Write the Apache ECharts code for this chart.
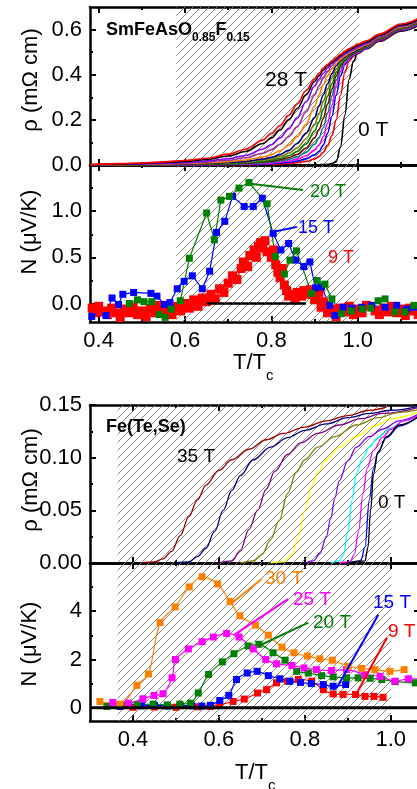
<!DOCTYPE html>
<html>
<head>
<meta charset="utf-8">
<script src="https://cdn.jsdelivr.net/npm/echarts@6.0.0/dist/echarts.min.js"></script>
<style>
html, body { margin: 0; padding: 0; overflow: hidden; background: #fff; }
#main { width: 430px; height: 789px; }
</style>
</head>
<body>
<div id="main"></div>
<script>
// ---------- SmFeAsO0.85F0.15 : resistivity (panel 1) ----------
const tSm = [0.38,0.45,0.5,0.55,0.6,0.65,0.7,0.74,0.78,0.8,0.82,0.84,0.86,0.88,0.9,0.91,0.92,0.93,0.94,0.95,0.96,0.97,0.98,0.99,1.0,1.02,1.05,1.1,1.15];
const rhoSm_0T  = [0,0,0,0,0,0,0,0,0,0,0,0,0,0,0.001,0.001,0.002,0.003,0.006,0.015,0.08,0.22,0.38,0.46,0.498,0.515,0.548,0.593,0.628];
const rhoSm_a   = [0,0,0,0,0,0.001,0.001,0.002,0.003,0.004,0.005,0.007,0.01,0.016,0.027,0.037,0.056,0.085,0.13,0.2,0.31,0.41,0.46,0.482,0.493,0.516,0.551,0.596,0.632];
const rhoSm_b   = [0,0,0,0,0.001,0.001,0.002,0.003,0.005,0.006,0.009,0.012,0.017,0.027,0.045,0.06,0.088,0.14,0.215,0.31,0.395,0.445,0.471,0.485,0.496,0.518,0.553,0.598,0.634];
const rhoSm_c   = [0,0,0,0,0.001,0.002,0.003,0.004,0.007,0.009,0.013,0.018,0.026,0.04,0.066,0.088,0.125,0.185,0.265,0.35,0.415,0.453,0.475,0.488,0.499,0.52,0.555,0.6,0.636];
const rhoSm_d   = [0,0,0,0.001,0.002,0.003,0.004,0.006,0.01,0.013,0.018,0.025,0.036,0.056,0.092,0.12,0.165,0.23,0.305,0.375,0.43,0.46,0.479,0.491,0.501,0.522,0.557,0.602,0.638];
const rhoSm_e   = [0,0,0,0.001,0.002,0.004,0.006,0.008,0.013,0.017,0.023,0.032,0.047,0.074,0.12,0.155,0.205,0.27,0.335,0.395,0.44,0.465,0.482,0.493,0.503,0.524,0.559,0.604,0.64];
const rhoSm_f   = [0,0,0.001,0.002,0.003,0.005,0.007,0.01,0.016,0.021,0.029,0.041,0.06,0.093,0.15,0.19,0.245,0.305,0.36,0.41,0.447,0.468,0.484,0.495,0.505,0.526,0.561,0.606,0.642];
const rhoSm_g   = [0,0,0.001,0.002,0.004,0.006,0.009,0.013,0.021,0.027,0.037,0.052,0.076,0.115,0.18,0.225,0.28,0.335,0.385,0.425,0.455,0.473,0.487,0.497,0.507,0.528,0.563,0.608,0.644];
const rhoSm_h   = [0,0.001,0.002,0.003,0.005,0.007,0.011,0.016,0.026,0.034,0.046,0.065,0.095,0.14,0.21,0.26,0.31,0.36,0.405,0.44,0.462,0.478,0.49,0.5,0.51,0.53,0.565,0.61,0.646];
const rhoSm_i   = [0,0.001,0.003,0.005,0.007,0.01,0.015,0.022,0.035,0.046,0.063,0.088,0.125,0.18,0.26,0.31,0.355,0.395,0.425,0.45,0.468,0.483,0.495,0.505,0.515,0.533,0.567,0.612,0.648];
const rhoSm_j   = [0,0.002,0.004,0.006,0.009,0.014,0.021,0.032,0.052,0.068,0.092,0.125,0.17,0.235,0.31,0.35,0.385,0.415,0.44,0.46,0.475,0.49,0.5,0.51,0.52,0.537,0.57,0.615,0.65];
const rhoSm_k   = [0.001,0.003,0.005,0.008,0.012,0.018,0.028,0.042,0.07,0.09,0.12,0.16,0.21,0.28,0.35,0.38,0.405,0.43,0.45,0.465,0.48,0.495,0.505,0.515,0.525,0.54,0.572,0.617,0.652];
const rhoSm_l   = [0.001,0.004,0.007,0.011,0.016,0.025,0.04,0.06,0.095,0.12,0.155,0.2,0.25,0.31,0.37,0.395,0.42,0.44,0.455,0.47,0.485,0.5,0.51,0.52,0.53,0.545,0.575,0.62,0.655];
const rhoSm_28T = [0.002,0.006,0.009,0.014,0.02,0.03,0.048,0.07,0.11,0.14,0.175,0.22,0.27,0.33,0.38,0.405,0.43,0.445,0.46,0.475,0.49,0.505,0.515,0.525,0.535,0.55,0.58,0.625,0.66];
const rhoSmCurves = [rhoSm_0T, rhoSm_a, rhoSm_b, rhoSm_c, rhoSm_d, rhoSm_e, rhoSm_f, rhoSm_g, rhoSm_h, rhoSm_i, rhoSm_j, rhoSm_k, rhoSm_l, rhoSm_28T];
const rhoSmColors = ['#000000','#ff0000','#0000ff','#ff00ff','#008080','#800000','#008000','#808000','#000080','#ff8000','#993399','#8000ff','#000000','#ff0000'];

// ---------- SmFeAsO0.85F0.15 : Nernst (panel 2) ----------
const nSm_9T = [[0.385,-0.05],[0.392,-0.1],[0.4,-0.03],[0.41,-0.08],[0.42,-0.12],[0.43,-0.05],[0.44,-0.1],[0.45,-0.15],[0.46,-0.06],[0.47,-0.1],[0.48,-0.04],[0.49,-0.12],[0.5,-0.08],[0.51,-0.14],[0.52,-0.05],[0.53,-0.1],[0.54,-0.02],[0.55,-0.09],[0.56,-0.06],[0.57,-0.12],[0.58,-0.03],[0.59,-0.08],[0.6,0.0],[0.61,-0.05],[0.62,0.04],[0.63,-0.03],[0.64,0.06],[0.65,0.02],[0.66,0.1],[0.67,0.05],[0.68,0.16],[0.69,0.12],[0.7,0.22],[0.71,0.3],[0.72,0.26],[0.73,0.38],[0.735,0.45],[0.745,0.4],[0.75,0.52],[0.76,0.58],[0.765,0.5],[0.77,0.62],[0.775,0.66],[0.78,0.6],[0.785,0.68],[0.79,0.56],[0.8,0.5],[0.805,0.58],[0.81,0.42],[0.815,0.34],[0.82,0.28],[0.825,0.38],[0.83,0.2],[0.835,0.14],[0.84,0.08],[0.85,0.1],[0.855,0.04],[0.86,0.12],[0.87,0.08],[0.875,0.14],[0.88,0.1],[0.89,0.15],[0.9,0.04],[0.91,0.12],[0.915,-0.04],[0.92,0.02],[0.93,-0.1],[0.94,-0.06],[0.95,-0.14],[0.96,-0.05],[0.97,-0.09],[0.98,-0.03],[0.99,-0.12],[1.0,-0.06],[1.01,-0.1],[1.02,-0.02],[1.04,-0.08],[1.05,-0.12],[1.06,-0.05],[1.07,-0.09],[1.08,-0.03],[1.09,-0.1],[1.1,-0.06],[1.11,-0.13],[1.12,-0.05],[1.13,-0.08],[1.14,-0.12]];
const nSm_15T = [[0.384,-0.14],[0.417,-0.13],[0.431,0.06],[0.446,-0.01],[0.456,0.1],[0.481,0.12],[0.521,0.11],[0.535,0.08],[0.552,-0.01],[0.565,0.01],[0.582,0.16],[0.598,0.24],[0.617,0.3],[0.64,0.16],[0.657,0.35],[0.673,0.77],[0.692,0.89],[0.71,1.16],[0.737,1.05],[0.758,1.05],[0.779,1.14],[0.804,0.76],[0.822,0.58],[0.84,0.65],[0.856,0.47],[0.875,0.4],[0.889,0.45],[0.902,0.17],[0.916,0.18],[0.935,-0.02],[0.947,-0.13],[0.966,-0.04],[0.986,-0.05],[1.009,-0.04],[1.032,-0.02],[1.063,-0.04],[1.09,-0.02],[1.113,-0.06],[1.13,-0.04]];
const nSm_20T = [[0.471,0.0],[0.49,0.04],[0.505,0.02],[0.523,0.02],[0.54,-0.12],[0.554,-0.15],[0.568,-0.06],[0.589,0.03],[0.61,0.49],[0.65,0.98],[0.668,0.69],[0.683,1.12],[0.703,1.16],[0.725,1.25],[0.748,1.31],[0.79,1.08],[0.809,0.51],[0.83,0.32],[0.843,0.47],[0.858,0.57],[0.893,0.11],[0.906,0.25],[0.924,0.21],[0.94,0.05],[0.962,-0.11],[0.985,-0.08],[1.01,-0.06],[1.03,-0.05],[1.047,0.03],[1.063,0.05],[1.086,-0.09],[1.109,-0.09],[1.13,-0.02]];
const nSm_0T = [[0.65,0],[0.88,0]];
const leadSm_20T = [[0.746,1.30],[0.873,1.23]];
const leadSm_15T = [[0.797,0.77],[0.859,0.83]];

// ---------- Fe(Te,Se) : resistivity (panel 3) ----------
const rhoFts_35T = [[0.42,0],[0.45,0.001],[0.47,0.004],[0.49,0.011],[0.51,0.026],[0.53,0.044],[0.55,0.06],[0.57,0.074],[0.6,0.088],[0.63,0.098],[0.67,0.108],[0.71,0.117],[0.75,0.123],[0.8,0.129],[0.85,0.135],[0.9,0.14],[0.95,0.145],[0.99,0.148]];
const rhoFts_b = [[0.5,0],[0.53,0.001],[0.55,0.006],[0.57,0.014],[0.59,0.03],[0.61,0.05],[0.63,0.069],[0.65,0.083],[0.68,0.098],[0.72,0.11],[0.76,0.119],[0.8,0.126],[0.85,0.132],[0.9,0.138],[0.95,0.142],[1.0,0.145],[1.068,0.149]];
const rhoFts_c = [[0.6,0],[0.63,0.002],[0.65,0.012],[0.67,0.032],[0.69,0.05],[0.71,0.07],[0.73,0.087],[0.76,0.103],[0.79,0.114],[0.83,0.123],[0.88,0.131],[0.93,0.137],[0.98,0.142],[1.068,0.148]];
const rhoFts_d = [[0.65,0],[0.68,0.002],[0.7,0.008],[0.72,0.022],[0.74,0.04],[0.76,0.066],[0.78,0.086],[0.8,0.098],[0.83,0.11],[0.87,0.12],[0.92,0.131],[0.97,0.138],[1.02,0.143],[1.068,0.146]];
const rhoFts_e = [[0.72,0],[0.75,0.001],[0.77,0.008],[0.785,0.025],[0.8,0.05],[0.815,0.072],[0.83,0.086],[0.85,0.098],[0.88,0.11],[0.92,0.12],[0.96,0.13],[1.0,0.137],[1.068,0.144]];
const rhoFts_f = [[0.8,0],[0.82,0.002],[0.835,0.009],[0.85,0.025],[0.86,0.042],[0.87,0.062],[0.88,0.078],[0.9,0.097],[0.92,0.11],[0.95,0.12],[0.98,0.127],[1.02,0.135],[1.068,0.142]];
const rhoFts_g = [[0.86,0],[0.88,0.002],[0.89,0.008],[0.9,0.03],[0.91,0.06],[0.92,0.085],[0.935,0.1],[0.95,0.11],[0.97,0.119],[1.0,0.128],[1.03,0.135],[1.068,0.141]];
const rhoFts_h = [[0.88,0],[0.905,0.001],[0.915,0.008],[0.925,0.03],[0.935,0.065],[0.945,0.09],[0.96,0.107],[0.98,0.119],[1.0,0.127],[1.03,0.135],[1.068,0.141]];
const rhoFts_i = [[0.9,0],[0.93,0.002],[0.94,0.015],[0.95,0.06],[0.96,0.09],[0.97,0.105],[0.99,0.119],[1.02,0.13],[1.068,0.14]];
const rhoFts_0T = [[0.9,0],[0.94,0.002],[0.947,0.015],[0.953,0.05],[0.96,0.085],[0.97,0.105],[0.99,0.12],[1.02,0.131],[1.068,0.14]];
const rhoFtsCurves = [rhoFts_35T, rhoFts_b, rhoFts_c, rhoFts_d, rhoFts_e, rhoFts_f, rhoFts_g, rhoFts_h, rhoFts_i, rhoFts_0T];
const rhoFtsColors = ['#990000','#000080','#800080','#808000','#ffff00','#8000ff','#00ffff','#ff00ff','#0000ff','#000000'];

// ---------- Fe(Te,Se) : Nernst (panel 4) ----------
const nFts_30T = [[0.323,0.26],[0.37,0.15],[0.409,0.93],[0.436,1.4],[0.463,3.53],[0.498,4.18],[0.531,5.01],[0.561,5.43],[0.597,5.13],[0.626,4.4],[0.649,3.81],[0.685,3.42],[0.715,3.01],[0.747,2.51],[0.775,2.28],[0.806,2.14],[0.835,2.03],[0.864,1.97],[0.901,1.72],[0.932,1.63],[0.963,1.58],[0.998,1.51],[1.031,1.58]];
const nFts_25T = [[0.353,0.22],[0.389,0.19],[0.423,0.37],[0.449,0.51],[0.47,0.58],[0.491,1.24],[0.499,2.0],[0.529,2.44],[0.561,2.74],[0.587,2.93],[0.618,3.08],[0.647,2.93],[0.68,2.44],[0.709,2.0],[0.734,1.82],[0.77,1.75],[0.798,1.65],[0.827,1.58],[0.862,1.54],[0.897,1.58],[0.94,1.37],[0.975,1.3],[1.01,1.1],[1.041,1.2],[1.07,1.2]];
const nFts_20T = [[0.339,0.05],[0.38,0.1],[0.41,0.12],[0.447,0.15],[0.48,0.12],[0.509,0.15],[0.534,0.19],[0.552,0.61],[0.576,1.38],[0.608,1.9],[0.635,2.24],[0.668,2.56],[0.693,2.63],[0.726,2.28],[0.754,1.97],[0.781,1.51],[0.808,1.44],[0.839,1.33],[0.866,1.28],[0.897,1.24],[0.924,1.24],[0.952,1.22],[0.979,1.17],[1.01,1.08],[1.057,1.03]];
const nFts_15T = [[0.37,0.05],[0.39,0.1],[0.42,0.08],[0.45,0.1],[0.48,0.07],[0.51,0.09],[0.537,0.08],[0.56,0.07],[0.58,0.1],[0.602,0.3],[0.623,0.51],[0.641,1.17],[0.666,1.44],[0.689,1.51],[0.715,1.33],[0.742,1.2],[0.765,1.1],[0.79,1.05],[0.815,1.0],[0.843,0.96],[0.866,0.89],[0.895,0.96]];
const nFts_9T = [[0.4,0.02],[0.45,0.03],[0.5,0.02],[0.55,0.04],[0.58,0.05],[0.602,0.12],[0.633,0.26],[0.659,0.36],[0.69,0.61],[0.711,0.75],[0.734,1.03],[0.76,1.1],[0.785,1.17],[0.816,1.1],[0.843,0.75],[0.866,0.57],[0.889,0.55],[0.918,0.55],[0.94,0.47],[0.961,0.47],[0.982,0.43]];
const nFts_0T = [[0.3,0],[1.07,0]];
const leadFts_30T = [[0.629,4.32],[0.699,5.33]];
const leadFts_25T = [[0.637,3.04],[0.761,4.5]];
const leadFts_20T = [[0.691,2.55],[0.808,3.53]];
const leadFts_15T = [[0.874,0.82],[0.971,3.85]];
const leadFts_9T = [[0.921,0.61],[0.991,2.9]];

// ---------- axis ranges and ticks ----------
const xSmRange = [0.38, 1.144], xFtsRange = [0.3, 1.068];
const xMajor = [0.4, 0.6, 0.8, 1.0];
const xSmMinor = [0.5, 0.7, 0.9, 1.1], xFtsMinor = [0.5, 0.7, 0.9];
const y1Range = [0, 0.7], y1Major = [0, 0.2, 0.4, 0.6], y1Minor = [0.1, 0.3, 0.5];
const y2Range = [-0.2, 1.5], y2Major = [0, 0.5, 1.0], y2Minor = [0.25, 0.75, 1.25];
const y3Range = [0, 0.15], y3Major = [0, 0.05, 0.1, 0.15], y3Minor = [0.025, 0.075, 0.125];
const y4Range = [-0.55, 6], y4Major = [0, 2, 4], y4Minor = [1, 3, 5];

const FONT = '"Liberation Sans", Arial, sans-serif';

// hatch tile for the shaded fluctuation region
const tile = document.createElement('canvas');
tile.width = 8; tile.height = 8;
const tg = tile.getContext('2d');
tg.strokeStyle = '#7a7a7a'; tg.lineWidth = 0.9;
tg.beginPath();
tg.moveTo(0, 8); tg.lineTo(8, 0);
tg.moveTo(-1, 1); tg.lineTo(1, -1);
tg.moveTo(7, 9); tg.lineTo(9, 7);
tg.stroke();

const grids = [
  { left: 90, top: 7, width: 330, height: 158 },
  { left: 90, top: 165, width: 330, height: 157 },
  { left: 90, top: 405, width: 330, height: 158 },
  { left: 90, top: 563, width: 330, height: 158 }
];

const xAxes = [], yAxes = [];
function addAxes(list, gi, range, pos, major, minor, fmt) {
  const base = { type: 'value', gridIndex: gi, min: range[0], max: range[1], position: pos, splitLine: { show: false } };
  list.push(Object.assign({}, base, {
    axisLine: { show: true, onZero: false, lineStyle: { color: '#000', width: 2.5 } },
    axisTick: { show: true, inside: true, length: 6, customValues: major, lineStyle: { color: '#000', width: 2 } },
    axisLabel: fmt ? { show: true, customValues: major, formatter: fmt, color: '#000', fontSize: 22, fontFamily: FONT, margin: 8 } : { show: false }
  }));
  list.push(Object.assign({}, base, {
    axisLine: { show: false, onZero: false },
    axisTick: { show: true, inside: true, length: 3, customValues: minor, lineStyle: { color: '#000', width: 2 } },
    axisLabel: { show: false }
  }));
  return list.length - 2;
}
const f1 = v => v.toFixed(1), f2 = v => v.toFixed(2), f0 = v => v.toFixed(0);

const panels = [
  { x: xSmRange, xm: xSmMinor, xl: null, y: y1Range, ym: y1Major, yn: y1Minor, yl: f1 },
  { x: xSmRange, xm: xSmMinor, xl: f1, y: y2Range, ym: y2Major, yn: y2Minor, yl: f1 },
  { x: xFtsRange, xm: xFtsMinor, xl: null, y: y3Range, ym: y3Major, yn: y3Minor, yl: f2 },
  { x: xFtsRange, xm: xFtsMinor, xl: f1, y: y4Range, ym: y4Major, yn: y4Minor, yl: f0 }
];
const axIdx = panels.map((p, gi) => {
  const xb = addAxes(xAxes, gi, p.x, 'bottom', xMajor, p.xm, p.xl);
  addAxes(xAxes, gi, p.x, 'top', xMajor, p.xm, null);
  const yl = addAxes(yAxes, gi, p.y, 'left', p.ym, p.yn, p.yl);
  addAxes(yAxes, gi, p.y, 'right', p.ym, p.yn, null);
  return { x: xb, y: yl };
});

const series = [];
function hatch(gi, from, to) {
  series.push({
    type: 'line', xAxisIndex: axIdx[gi].x, yAxisIndex: axIdx[gi].y, data: [], z: 1, silent: true,
    markArea: { silent: true, itemStyle: { color: { image: tile, repeat: 'repeat' }, opacity: 1, borderWidth: 0 },
      data: [[{ xAxis: from }, { xAxis: to }]] }
  });
}
function curve(gi, data, color, width) {
  series.push({
    type: 'line', xAxisIndex: axIdx[gi].x, yAxisIndex: axIdx[gi].y, data: data,
    showSymbol: false, smooth: 0.35, smoothMonotone: 'x', z: 3, silent: true,
    lineStyle: { color: color, width: width }
  });
}
function points(gi, data, color, size, smooth) {
  series.push({
    type: 'line', xAxisIndex: axIdx[gi].x, yAxisIndex: axIdx[gi].y, data: data,
    symbol: 'rect', symbolSize: size, showSymbol: true, smooth: smooth, z: 4, silent: true,
    itemStyle: { color: color }, lineStyle: { color: color, width: 1.2 }
  });
}
function plain(gi, data, color, width) {
  series.push({
    type: 'line', xAxisIndex: axIdx[gi].x, yAxisIndex: axIdx[gi].y, data: data,
    showSymbol: false, z: 5, silent: true, lineStyle: { color: color, width: width }
  });
}

hatch(0, 0.58, 1.0);
hatch(1, 0.58, 1.0);
hatch(2, 0.364, 1.0);
hatch(3, 0.364, 1.0);

rhoSmCurves.forEach((c, i) => curve(0, tSm.map((t, k) => [t, c[k]]), rhoSmColors[i], 1.6));

plain(1, nSm_0T, '#000', 2.5);
points(1, nSm_9T, '#ff0000', 9, false);
points(1, nSm_15T, '#0000ff', 7, false);
points(1, nSm_20T, '#008000', 7, false);
plain(1, leadSm_20T, '#008000', 2);
plain(1, leadSm_15T, '#0000ff', 2);

rhoFtsCurves.forEach((c, i) => curve(2, c, rhoFtsColors[i], 1.3));

plain(3, nFts_0T, '#000', 3);
points(3, nFts_9T, '#ff0000', 7, 0.3);
points(3, nFts_15T, '#0000ff', 7, 0.3);
points(3, nFts_20T, '#008000', 7, 0.3);
points(3, nFts_25T, '#ff00ff', 7, 0.3);
points(3, nFts_30T, '#ff8000', 7, 0.3);
plain(3, leadFts_30T, '#ff8000', 2);
plain(3, leadFts_25T, '#ff00ff', 2);
plain(3, leadFts_20T, '#008000', 2);
plain(3, leadFts_15T, '#0000ff', 2);
plain(3, leadFts_9T, '#ff0000', 2);

// ---------- text ----------
const mctx = document.createElement('canvas').getContext('2d');
function textW(s, font) { mctx.font = font; return mctx.measureText(s).width; }
function txt(s, x, y, size, color, weight, extra) {
  return Object.assign({
    type: 'text', x: x, y: y, silent: true, z: 10,
    style: { text: s, fill: color, font: (weight || 'normal') + ' ' + size + 'px ' + FONT, textAlign: 'left', textVerticalAlign: 'middle' }
  }, extra || {});
}
function runs(parts, x0) {
  // parts: [text, size, y, weight]
  let x = x0;
  return parts.map(p => {
    const el = txt(p[0], x, p[2], p[1], p[4] || '#000', p[3]);
    x += textW(p[0], (p[3] || 'normal') + ' ' + p[1] + 'px ' + FONT);
    return el;
  });
}
function vtxt(s, x, y) {
  return txt(s, x, y, 22, '#000', 'normal', { rotation: Math.PI / 2, style: { text: s, fill: '#000', font: '22px ' + FONT, textAlign: 'center', textVerticalAlign: 'middle' } });
}

const graphics = [].concat(
  runs([['SmFeAsO', 18, 30, 'bold'], ['0.85', 12, 38, 'bold'], ['F', 18, 30, 'bold'], ['0.15', 12, 38, 'bold']], 106),
  [txt('28 T', 265, 80, 21, '#000'), txt('0 T', 358, 130, 21, '#000'),
   txt('20 T', 310, 192, 18, '#008000'), txt('15 T', 298, 228, 18, '#0000ff'), txt('9 T', 328, 258, 18, '#ff0000'),
   txt('Fe(Te,Se)', 106, 427, 18, '#000', 'bold'),
   txt('35 T', 177, 457, 19, '#000'), txt('0 T', 378, 503, 19, '#000'),
   txt('30 T', 265, 579, 19, '#ff8000'), txt('25 T', 293, 600, 19, '#ff00ff'), txt('20 T', 313, 623, 19, '#008000'),
   txt('15 T', 373, 603, 19, '#0000ff'), txt('9 T', 388, 632, 19, '#ff0000'),
   vtxt('\u03c1 (m\u03a9 cm)', 31, 80), vtxt('N (\u03bcV/K)', 30, 232),
   vtxt('\u03c1 (m\u03a9 cm)', 31, 480), vtxt('N (\u03bcV/K)', 30, 644)],
  runs([['T/T', 22, 363], ['c', 15, 376]], 233),
  runs([['T/T', 22, 773], ['c', 15, 786]], 235)
);

const chart = echarts.init(document.getElementById('main'), null, { renderer: 'canvas' });
chart.setOption({
  animation: false,
  backgroundColor: '#fff',
  grid: grids,
  xAxis: xAxes,
  yAxis: yAxes,
  series: series,
  graphic: { elements: graphics }
});
</script>
</body>
</html>
